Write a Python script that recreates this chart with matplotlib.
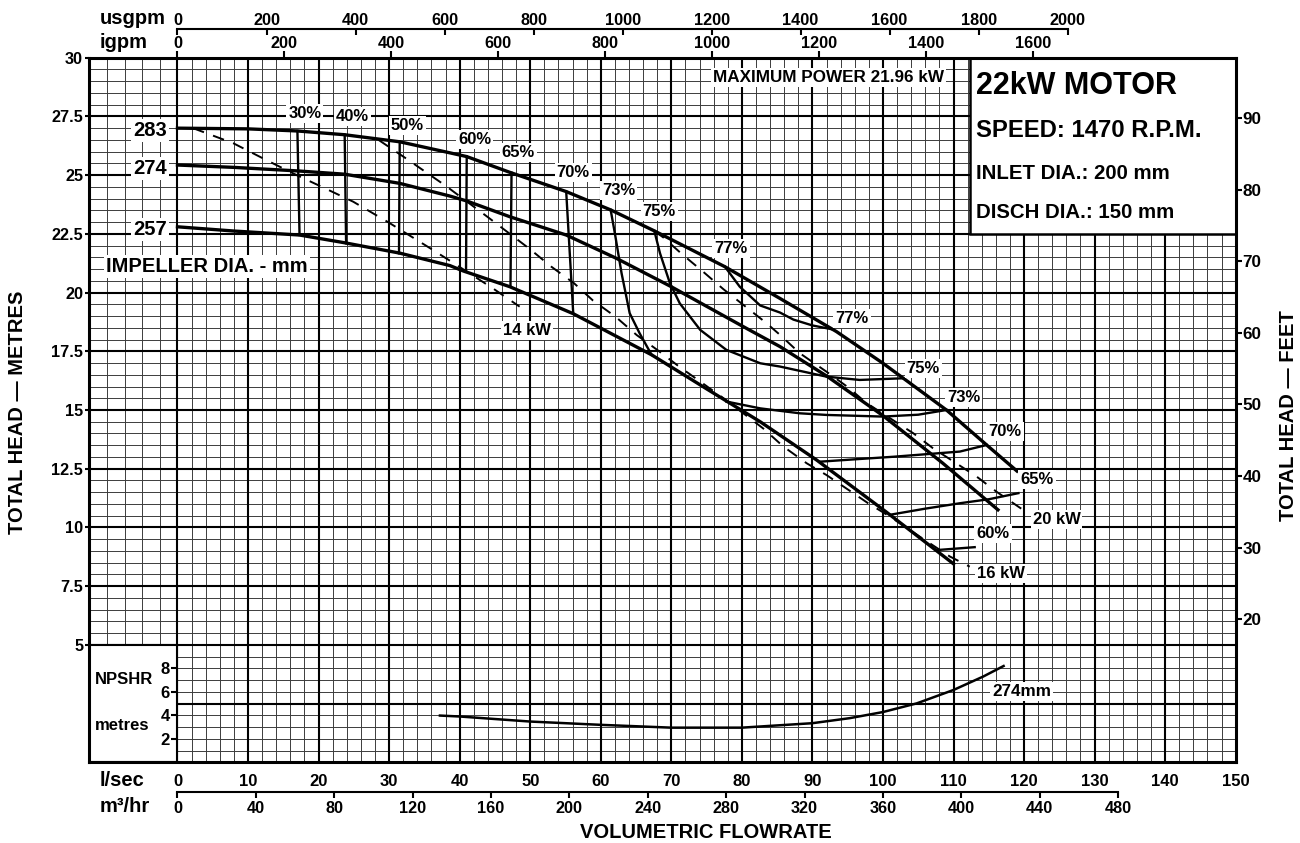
import numpy as np
import matplotlib
matplotlib.use('Agg')
import matplotlib.pyplot as plt
from matplotlib.patches import Rectangle

plt.rcParams['font.family'] = ['Liberation Sans', 'DejaVu Sans']
plt.rcParams['font.weight'] = 'bold'

# head curves per impeller dia. (flow l/sec, head m)
imp_283_q = [0, 10, 17.0, 23.7, 31.5, 38.6, 41.0, 47.1, 55.1, 61.4, 67.5, 77.6, 85.4, 93.4, 100.0, 109.0, 114.7, 119.0]
imp_283_h = [27.0, 26.97, 26.88, 26.72, 26.42, 25.95, 25.79, 25.12, 24.3, 23.52, 22.64, 21.1, 19.75, 18.34, 16.99, 15.0, 13.51, 12.4]
imp_274_q = [0, 8, 17.0, 23.7, 31.5, 38.6, 41.0, 47.1, 55.1, 62.2, 69.8, 80.2, 85.4, 92.0, 100.0, 108.5, 116.3]
imp_274_h = [25.43, 25.33, 25.18, 25.04, 24.65, 24.11, 23.9, 23.23, 22.45, 21.46, 20.28, 18.55, 17.7, 16.45, 14.76, 12.73, 10.75]
imp_257_q = [0, 8, 17.3, 23.7, 31.5, 38.6, 40.5, 47.1, 56.1, 67.2, 75.0, 78.8, 82.6, 90.6, 100.5, 110.0]
imp_257_h = [22.8, 22.62, 22.45, 22.12, 21.68, 21.15, 20.92, 20.25, 19.1, 17.35, 15.9, 15.2, 14.5, 12.87, 10.65, 8.45]
impellers = ['283', '274', '257']

# efficiency lines (flow, head)
eff_30 = ([17.0, 17.3], [26.88, 22.45])
eff_40 = ([23.7, 23.9], [26.72, 22.1])
eff_50 = ([31.5, 31.4], [26.42, 21.67])
eff_60a = ([41.0, 40.9], [25.79, 20.9])
eff_65a = ([47.35, 47.2], [25.1, 20.25])
eff_70a = ([55.1, 55.6, 56.1], [24.3, 21.7, 19.1])
eff_73a = ([61.4, 62.0, 62.95, 64.1, 65.5, 67.2], [23.52, 22.52, 20.82, 19.12, 18.27, 17.35])
eff_75 = ([67.6, 68.4, 69.8, 71.2, 74.1, 77.8, 82.6, 85.4, 92.0, 96.7, 102.8],
          [22.62, 21.67, 20.40, 19.54, 18.41, 17.56, 16.99, 16.85, 16.42, 16.28, 16.35])
eff_77 = ([77.6, 79.7, 82.6, 85.4, 87.3, 90.0, 92.9], [21.1, 20.25, 19.45, 19.15, 18.85, 18.6, 18.43])
eff_73b = ([77.8, 82.6, 88.2, 92.0, 100.0, 105.0, 109.0], [15.36, 15.07, 14.86, 14.79, 14.72, 14.8, 15.0])
eff_70b = ([91.1, 96.0, 101.5, 110.9, 114.7], [12.8, 12.9, 13.01, 13.23, 13.51])
eff_65b = ([101.2, 106.0, 110.9, 115.0, 119.2], [10.55, 10.8, 11.03, 11.2, 11.46])
eff_60b = ([107.8, 113.0], [9.04, 9.16])

# power lines (dashed)
kw14_q = [2.2, 7.9, 12.6, 16.9, 20.9, 24.9, 29.9, 35.8, 38.8, 44.7, 48.5]
kw14_h = [27.0, 26.36, 25.64, 25.0, 24.44, 23.87, 22.99, 21.89, 21.32, 20.18, 19.4]
kw16_q = [28.5, 32.5, 35.1, 38.0, 44.0, 50.0, 53.0, 56.2, 58.9, 62.1, 65.1, 68.0, 71.1, 74.1, 77.4,
          80.2, 83.0, 85.9, 89.2, 92.0, 95.1, 97.9, 101.0, 105.0, 109.5, 112.3]
kw16_h = [26.5, 25.69, 25.15, 24.55, 23.21, 21.84, 21.1, 20.4, 19.66, 18.97, 18.19, 17.56, 16.85, 16.21, 15.5,
          14.86, 14.22, 13.44, 12.73, 12.23, 11.6, 11.03, 10.46, 9.65, 8.76, 8.33]
kw20_q = [67.6, 68.85, 71.5, 74.5, 77.4, 80.4, 83.4, 85.4, 88.2, 92.0, 94.9, 97.7, 101.0, 104.3, 107.1,
          110.4, 113.3, 116.1, 119.6]
kw20_h = [22.62, 22.35, 21.64, 20.89, 20.14, 19.43, 18.72, 18.2, 17.42, 16.63, 16.0, 15.29, 14.65, 14.01, 13.37,
          12.73, 12.16, 11.52, 10.8]

# NPSHR for 274mm (flow l/sec, metres)
npshr_q = [37.2, 40, 50, 60, 70, 80, 90, 95.3, 100, 104.8, 110, 114.2, 117.1]
npshr_m = [3.98, 3.9, 3.47, 3.19, 2.95, 2.95, 3.33, 3.76, 4.28, 5.02, 6.16, 7.3, 8.2]

# label text and positions
eff_labels = [('30%', 18.05, 27.63), ('40%', 24.76, 27.49), ('50%', 32.56, 27.13), ('60%', 42.15, 26.53),
              ('65%', 48.3, 25.96), ('70%', 56.1, 25.1), ('73%', 62.5, 24.33), ('75%', 68.3, 23.47),
              ('77%', 78.45, 21.89), ('77%', 95.6, 18.91), ('75%', 105.7, 16.78), ('73%', 111.4, 15.54),
              ('70%', 117.3, 14.08), ('65%', 121.85, 12.02), ('60%', 115.6, 9.75)]
kw_labels = [('14 kW', 49.6, 18.37), ('16 kW', 116.7, 8.02), ('20 kW', 124.6, 10.32)]
imp_label_h = [26.9, 25.29, 22.7]

head_ticks = [5, 7.5, 10, 12.5, 15, 17.5, 20, 22.5, 25, 27.5, 30]
feet_ticks = [20, 30, 40, 50, 60, 70, 80, 90]
ls_ticks = list(range(0, 151, 10))
m3h_ticks = list(range(0, 481, 40))
usgpm_ticks = list(range(0, 2001, 200))
igpm_ticks = list(range(0, 1601, 200))
npshr_ticks = [2, 4, 6, 8]

LS_PER_USGPM = 0.0630902
LS_PER_IGPM = 0.0757682
M_PER_FT = 0.3048


def label(ax, x, y, s, size=12, **kw):
    ax.text(x, y, s, fontsize=size, ha=kw.pop('ha', 'center'), va='center', zorder=7,
            bbox=dict(facecolor='white', edgecolor='none', pad=1.5), **kw)


def main():
    fig = plt.figure(figsize=(13, 8.43), dpi=100)
    ax = fig.add_axes([89.3 / 1300, 1 - 762.3 / 843, 1146.4 / 1300, 704.6 / 843])
    ax.set_xlim(-12.5, 150)
    ax.set_ylim(0, 30)

    # graph paper grid
    minor_x = [-10, -7.5, -5, -2.5] + [x for x in range(2, 150, 2) if x % 10]
    minor_y = [y for y in np.arange(0.5, 30, 0.5) if y % 2.5]
    ax.vlines(minor_x, 0, 30, color='#3c3c3c', lw=0.7, zorder=1)
    ax.hlines(minor_y, -12.5, 150, color='#3c3c3c', lw=0.7, zorder=1)
    ax.vlines(range(0, 150, 10), 0, 30, color='black', lw=1.5, zorder=1.5)
    ax.hlines(np.arange(2.5, 30, 2.5), -12.5, 150, color='black', lw=1.5, zorder=1.5)
    ax.add_patch(Rectangle((-12.5, 0), 12.5, 5, fc='white', ec='black', lw=1.5, zorder=2))
    ax.add_patch(Rectangle((112.4, 22.5), 37.6, 7.5, fc='white', ec='black', lw=1.8, zorder=2))
    for s in ax.spines.values():
        s.set_linewidth(2.2)

    # head curves
    for q, h in [(imp_283_q, imp_283_h), (imp_274_q, imp_274_h), (imp_257_q, imp_257_h)]:
        ax.plot(q, h, color='black', lw=2.4, zorder=4)

    for q, h in [eff_30, eff_40, eff_50, eff_60a, eff_65a, eff_70a, eff_73a, eff_75, eff_77,
                 eff_73b, eff_70b, eff_65b, eff_60b]:
        ax.plot(q, h, color='black', lw=1.7, zorder=3)

    for q, h in [(kw14_q, kw14_h), (kw16_q, kw16_h), (kw20_q, kw20_h)]:
        ax.plot(q, h, color='black', lw=1.4, ls=(0, (6, 5)), zorder=3)

    for s, x, y in eff_labels + kw_labels:
        label(ax, x, y, s)
    for s, y in zip(impellers, imp_label_h):
        label(ax, -3.93, y, s, size=14.5)
    label(ax, 4.2, 21.1, 'IMPELLER DIA. - mm', size=14.5)
    label(ax, 92.3, 29.16, 'MAXIMUM POWER 21.96 kW', size=12.3)

    ax.text(113.2, 28.8, '22kW MOTOR', fontsize=22, va='center', zorder=7)
    ax.text(113.2, 26.88, 'SPEED: 1470 R.P.M.', fontsize=17.2, va='center', zorder=7)
    ax.text(113.2, 25.09, 'INLET DIA.: 200 mm', fontsize=14.7, va='center', zorder=7)
    ax.text(113.2, 23.43, 'DISCH DIA.: 150 mm', fontsize=14.7, va='center', zorder=7)

    ax.text(-11.7, 3.54, 'NPSHR', fontsize=12, va='center', zorder=7)
    ax.text(-11.7, 1.55, 'metres', fontsize=12, va='center', zorder=7)

    # NPSHR panel
    axn = ax.inset_axes([0, 0, 150, 5], transform=ax.transData)
    axn.set_xlim(0, 150)
    axn.set_ylim(0, 10)
    axn.patch.set_visible(False)
    for s in axn.spines.values():
        s.set_visible(False)
    axn.set_xticks([])
    axn.set_yticks(npshr_ticks)
    axn.tick_params(axis='y', length=4.3, width=1.5, pad=1, labelsize=12)
    axn.plot(npshr_q, npshr_m, color='black', lw=1.8)
    axn.text(119.7, 6.02, '274mm', fontsize=12.3, ha='center', va='center',
             bbox=dict(facecolor='white', edgecolor='none', pad=1.5))

    # main ticks
    ax.set_xticks(ls_ticks)
    ax.tick_params(axis='x', length=0, pad=8.5, labelsize=12)
    ax.set_yticks(head_ticks)
    ax.set_yticklabels(['{:g}'.format(t) for t in head_ticks])
    ax.tick_params(axis='y', length=3, width=1.5, pad=1.5, labelsize=11.7)

    ft = ax.secondary_yaxis('right', functions=(lambda m: m / M_PER_FT, lambda f: f * M_PER_FT))
    ft.set_ticks(feet_ticks)
    ft.tick_params(direction='out', length=4, width=1.5, pad=1, labelsize=12.3)
    ft.spines['right'].set_visible(False)

    ig = ax.secondary_xaxis('top', functions=(lambda q: q / LS_PER_IGPM, lambda g: g * LS_PER_IGPM))
    ig.set_ticks(igpm_ticks)
    ig.tick_params(direction='out', length=5, width=1.5, pad=-0.3, labelsize=11.7)
    ig.spines['top'].set_visible(False)

    us = ax.secondary_xaxis(1 + 28.4 / 704.6, functions=(lambda q: q / LS_PER_USGPM, lambda g: g * LS_PER_USGPM))
    us.set_ticks(usgpm_ticks)
    us.tick_params(direction='in', length=4, width=1.5, pad=1.2, labelsize=11.7)
    us.spines['top'].set_bounds(0, 2000)
    us.spines['top'].set_linewidth(1.5)

    m3 = ax.secondary_xaxis(-29.7 / 704.6, functions=(lambda q: q * 3.6, lambda m: m / 3.6))
    m3.set_ticks(m3h_ticks)
    m3.tick_params(direction='out', length=4.5, width=1.5, pad=2, labelsize=11.7)
    m3.spines['bottom'].set_bounds(0, 480)
    m3.spines['bottom'].set_linewidth(1.5)

    W, H = 1300, 843
    fig.text(100 / W, 1 - 18.5 / H, 'usgpm', fontsize=14.5, va='center')
    fig.text(100 / W, 1 - 43 / H, 'igpm', fontsize=14.5, va='center')
    fig.text(100 / W, 1 - 780 / H, 'l/sec', fontsize=14.5, va='center')
    fig.text(100 / W, 1 - 806.7 / H, 'm³/hr', fontsize=14.5, va='center')
    fig.text(706 / W, 1 - 833 / H, 'VOLUMETRIC FLOWRATE', fontsize=14.5, ha='center', va='center')
    fig.text(18 / W, 1 - 412 / H, 'TOTAL HEAD — METRES', fontsize=14.5, rotation=90, ha='center', va='center')
    fig.text(1288 / W, 1 - 416 / H, 'TOTAL HEAD — FEET', fontsize=14.5, rotation=90, ha='center', va='center')

    fig.savefig('out.png', dpi=100)


if __name__ == '__main__':
    main()
